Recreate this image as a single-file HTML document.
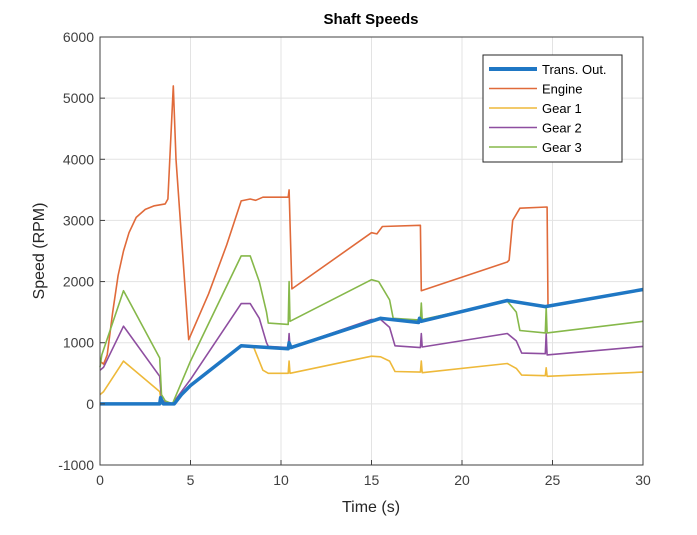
<!DOCTYPE html>
<html><head><meta charset="utf-8"><style>
body{margin:0;background:#fff;font-family:"Liberation Sans",sans-serif}
svg text{font-family:"Liberation Sans",sans-serif}
</style></head><body>
<svg id="chart" width="697" height="530" xmlns="http://www.w3.org/2000/svg">
<rect width="697" height="530" fill="#fff"/>
<g id="grid"></g><g id="series"></g><g id="axes"></g>
</svg>
<script>
const xTicks=[0,5,10,15,20,25,30];
const yTicks=[-1000,0,1000,2000,3000,4000,5000,6000];
const seriesNames=["Trans. Out.","Engine","Gear 1","Gear 2","Gear 3"];
const seriesColors=["#1f77c4","#e06a3a","#eeb93a","#8e4ea0","#86b84a"];
const transT=[0,3.3,3.35,3.5,4.1,4.5,5,7.8,8.3,10.4,10.45,10.55,15.5,17.6,17.65,17.75,22.5,24.6,30];
const transV=[0,0,100,0,0,150,300,950,940,900,1000,920,1400,1330,1400,1350,1690,1590,1870];
const engT=[0,0.2,0.4,0.7,1,1.3,1.6,2,2.5,3,3.6,3.75,4.05,4.2,4.9,6,7,7.8,8.3,8.6,9,10.4,10.45,10.6,15,15.3,15.6,17.7,17.75,22.5,22.6,22.8,23.2,24.7,24.75,30];
const engV=[700,650,800,1500,2100,2500,2800,3050,3180,3240,3270,3350,5200,4000,1050,1800,2600,3320,3350,3330,3380,3380,3500,1880,2800,2780,2900,2920,1850,2320,2350,3000,3200,3220,1600,1870];
const g1T=[0,0.2,1.3,3.3,3.35,3.5,4,4.5,5,7.8,8.5,9,9.3,10.4,10.45,10.5,15,15.5,16,16.3,17.7,17.75,17.8,22.5,23,23.3,24.6,24.65,24.7,30];
const g1V=[150,200,700,200,100,30,0,150,300,950,920,550,500,500,700,500,780,770,700,530,520,700,510,660,580,470,460,590,450,520];
const g2T=[0,0.2,1.3,3.3,3.4,4,5,7.8,8.3,8.8,9.2,9.3,10.4,10.45,10.5,15,15.5,16,16.3,17.7,17.75,17.8,22.5,23,23.3,24.6,24.65,24.7,30];
const g2V=[550,600,1270,450,60,0,400,1640,1640,1400,1000,940,920,1150,920,1380,1380,1250,950,920,1150,930,1150,1030,830,820,1150,800,940];
const g3T=[0,0.1,1.3,3.3,3.4,3.6,4,5,7.8,8.3,8.8,9.2,9.3,10.4,10.45,10.5,15,15.4,16,16.2,17.7,17.75,17.8,22.5,23,23.2,24.6,24.65,24.7,30];
const g3V=[600,800,1850,750,150,50,0,700,2420,2420,2000,1500,1320,1300,2000,1350,2030,2000,1700,1400,1370,1650,1380,1680,1500,1200,1160,1580,1160,1350];
const L=100,R=643,T=37,B=465;
const xs=t=>L+(t-0)/30*(R-L);
const ys=v=>B-(v+1000)/7000*(B-T);
const NS="http://www.w3.org/2000/svg";
function mk(tag,at,parent){const e=document.createElementNS(NS,tag);for(const k in at)e.setAttribute(k,at[k]);parent.appendChild(e);return e;}
const grid=document.getElementById('grid'),ser=document.getElementById('series'),ax=document.getElementById('axes');
mk('rect',{x:L,y:T,width:R-L,height:B-T,fill:'#fff'},grid);
xTicks.forEach(t=>{const l=mk('line',{x1:xs(t),x2:xs(t),y1:T,y2:B,stroke:'#e3e3e3'},grid);


mk('line',{x1:xs(t),x2:xs(t),y1:B,y2:B-5,stroke:'#404040'},ax);
const tx=mk('text',{x:xs(t),y:B+20,'text-anchor':'middle','font-size':14,fill:'#404040'},ax);tx.textContent=t;

});
yTicks.forEach(v=>{const l=mk('line',{x1:L,x2:R,y1:ys(v),y2:ys(v),stroke:'#e3e3e3'},grid);


mk('line',{x1:L,x2:L+5,y1:ys(v),y2:ys(v),stroke:'#404040'},ax);
const tx=mk('text',{x:L-6,y:ys(v)+5,'text-anchor':'end','font-size':14,fill:'#404040'},ax);tx.textContent=v;

});
const box=mk('rect',{x:L,y:T,width:R-L,height:B-T,fill:'none',stroke:'#404040','stroke-width':1},ax);


const data=[[transT,transV],[engT,engV],[g1T,g1V],[g2T,g2V],[g3T,g3V]];
const order=[1,2,3,4,0];
order.forEach(i=>{const [T_,V_]=data[i];const d=T_.map((t,j)=>(j?'L':'M')+xs(t).toFixed(1)+' '+ys(V_[j]).toFixed(1)).join(' ');
const p=mk('path',{d:d,fill:'none',stroke:seriesColors[i],'stroke-width':i==0?3.5:1.6,'stroke-linejoin':'round'},ser);

});
const t=mk('text',{x:371,y:24,'text-anchor':'middle','font-size':15,'font-weight':'bold',fill:'#000'},ax);t.textContent='Shaft Speeds';


const xl=mk('text',{x:371,y:512,'text-anchor':'middle','font-size':16,fill:'#262626'},ax);xl.textContent='Time (s)';


const yl=mk('text',{x:44,y:251,'text-anchor':'middle','font-size':16,fill:'#262626',transform:'rotate(-90 44 251)'},ax);yl.textContent='Speed (RPM)';


const lg=mk('g',{},ax);


mk('rect',{x:483,y:55,width:139,height:107,fill:'#fff',stroke:'#262626','stroke-width':1},lg);
seriesNames.forEach((n,i)=>{const y=69+i*19.5;
const ln=mk('line',{x1:489,x2:537,y1:y,y2:y,stroke:seriesColors[i],'stroke-width':i==0?4:1.6},lg);


const tx=mk('text',{x:542,y:y+5,'font-size':13,fill:'#000'},lg);tx.textContent=n;

});
</script>
</body></html>
